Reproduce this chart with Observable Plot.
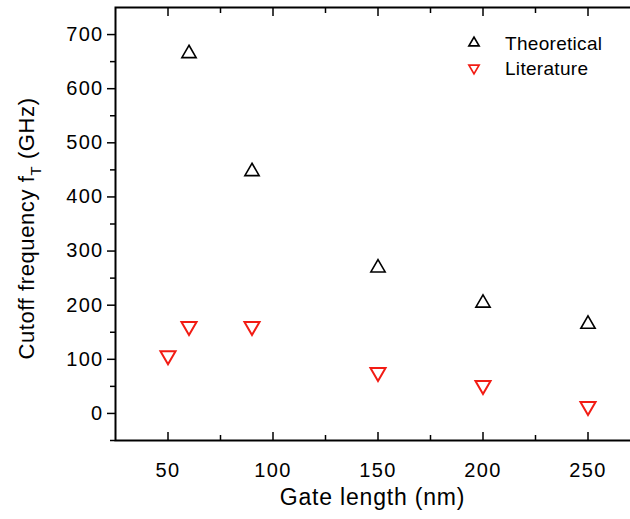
<!DOCTYPE html>
<html>
<head>
<meta charset="utf-8">
<script src="https://cdn.jsdelivr.net/npm/d3@7"></script>
<script src="https://cdn.jsdelivr.net/npm/@observablehq/plot@0.6"></script>
<style>
  html, body { margin: 0; padding: 0; background: #fff; overflow: hidden; }
  svg { display: block; max-width: none !important; }
</style>
</head>
<body>
<div id="chart"></div>
<script>
const theoGate = [60, 90, 150, 200, 250];
const theoFreq = [665, 447, 269, 204, 165];
const litGate = [50, 60, 90, 150, 200, 250];
const litFreq = [107, 161, 161, 76, 52, 13];
const xMajor = [50, 100, 150, 200, 250];
const xMinor = [75, 125, 175, 225];
const yMajor = [0, 100, 200, 300, 400, 500, 600, 700];
const yMinor = [-50, 50, 150, 250, 350, 450, 550, 650];
const seriesNames = ["Theoretical", "Literature"];
const seriesColors = ["#000000", "#f21c14"];

const theo = theoGate.map((g, i) => ({gate: g, f: theoFreq[i]}));
const lit = litGate.map((g, i) => ({gate: g, f: litFreq[i]}));

const font = "'Liberation Sans', Arial, Helvetica, sans-serif";

const plot = Plot.plot({
  width: 640,
  height: 519,
  marginLeft: 115,
  marginRight: 0,
  marginTop: 7,
  marginBottom: 79,
  style: {fontFamily: font, fontSize: "20px", color: "#000", background: "#fff", letterSpacing: "1.3px"},
  x: {domain: [25, 275]},
  y: {domain: [-50, 750]},
  marks: [
    // left axis: outward ticks
    Plot.axisY({ticks: yMajor, tickSize: 8, tickPadding: 4, label: null, strokeWidth: 1.5}),
    Plot.axisY({ticks: yMinor, tickSize: 5, text: null, label: null, strokeWidth: 1.5}),
    // bottom axis: inward ticks
    Plot.axisX({ticks: xMajor, tickSize: -8, text: null, label: null, strokeWidth: 1.5}),
    Plot.axisX({ticks: xMinor, tickSize: -5, text: null, label: null, strokeWidth: 1.5}),
    Plot.axisX({ticks: xMajor, tickSize: 0, tickPadding: 22, label: null}),
    // top axis: inward ticks
    Plot.axisX({anchor: "top", ticks: xMajor, tickSize: -8, text: null, label: null, strokeWidth: 1.5}),
    Plot.axisX({anchor: "top", ticks: xMinor, tickSize: -5, text: null, label: null, strokeWidth: 1.5}),
    Plot.frame({stroke: "#000", strokeWidth: 2}),
    Plot.dot(theo, {x: "gate", y: "f", symbol: "triangle", r: 5.3, stroke: seriesColors[0], strokeWidth: 1.6, fill: "none"}),
    Plot.dot(lit, {x: "gate", y: "f", symbol: "triangle", rotate: 180, r: 5.6, stroke: seriesColors[1], strokeWidth: 2, fill: "none"})
  ]
});

const svg = d3.select(plot);
const ys = plot.scale("y");
const xs = plot.scale("x");
const yMid = (ys.apply(-50) + ys.apply(750)) / 2;

// y axis title with subscript
const yt = svg.append("text")
  .attr("transform", `translate(34,${yMid + 5}) rotate(-90)`)
  .attr("text-anchor", "middle")
  .style("font-family", font)
  .style("font-size", "22px")
  .style("letter-spacing", "0.6px")
  .attr("fill", "#000");
yt.append("tspan").text("Cutoff frequency f");
yt.append("tspan").attr("dy", 7).style("font-size", "15px").text("T");
yt.append("tspan").attr("dy", -7).text(" (GHz)");

// x axis title
svg.append("text")
  .attr("x", (xs.apply(25) + xs.apply(275)) / 2 - 5)
  .attr("y", 505)
  .attr("text-anchor", "middle")
  .style("font-family", font)
  .style("font-size", "23px")
  .style("letter-spacing", "0.8px")
  .attr("fill", "#000")
  .text("Gate length (nm)");

// legend
const leg = svg.append("g").attr("transform", "translate(474,43)");
seriesNames.forEach((name, i) => {
  const g = leg.append("g").attr("transform", `translate(0,${i * 25})`);
  g.append("path")
    .attr("d", d3.symbol(d3.symbolTriangle, 45)())
    .attr("transform", i === 1 ? "rotate(180)" : null)
    .attr("fill", "none")
    .attr("stroke", seriesColors[i])
    .attr("stroke-width", 1.7);
  g.append("text")
    .attr("x", 31)
    .attr("y", 0)
    .attr("dy", "0.35em")
    .attr("text-anchor", "start")
    .style("font-family", font)
    .style("font-size", "19px")
    .style("letter-spacing", "0.3px")
    .attr("fill", "#000")
    .text(name);
});

document.getElementById("chart").appendChild(plot);
</script>
</body>
</html>
